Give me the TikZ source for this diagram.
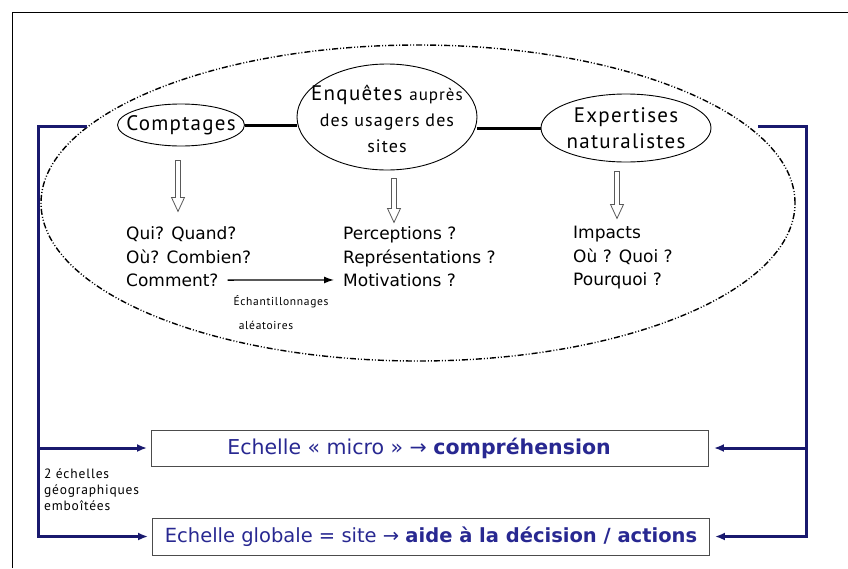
\documentclass[tikz,border=0pt]{standalone}
\usepackage{fontspec}
\setmainfont{DejaVu Sans}
\newfontfamily\gillfont{PT Sans}[LetterSpace=6]
\usetikzlibrary{shapes.geometric,arrows.meta,calc}

\definecolor{navy}{RGB}{25,25,110}
\definecolor{scaleblue}{RGB}{40,40,145}

\tikzset{
  zone/.style={ellipse, draw, line width=1.4pt, inner sep=0pt,
    dash pattern=on 6pt off 2pt on 1pt off 2pt on 1pt off 2pt},
  bubble/.style={ellipse, draw, line width=0.9pt, inner sep=0pt},
  bubbletext/.style={align=center, inner sep=0pt, font=\gillfont\fontsize{21}{26}\selectfont},
  qline/.style={anchor=base west, inner sep=0pt, font=\fontsize{17}{20}\selectfont},
  smalltext/.style={inner sep=0pt, font=\gillfont\fontsize{11.5}{16}\selectfont},
  scalebox/.style={draw=black!70, line width=0.9pt, inner sep=0pt, minimum width=557,
    text=scaleblue},
  bond/.style={line width=3pt},
  link/.style={navy, line width=3pt},
}

% hollow arrow going down between two points
\newcommand\hollowdown[2]{%
  \draw[black!65, line width=0.8pt, fill=white] let \p1=#1, \p2=#2 in
    (\x1-2.5pt,\y1) -- (\x1+2.5pt,\y1) -- (\x1+2.5pt,\y2+14pt) -- (\x1+6.5pt,\y2+14pt)
    -- (\x1,\y2) -- (\x1-6.5pt,\y2+14pt) -- (\x1-2.5pt,\y2+14pt) -- cycle;}

\begin{document}
\begin{tikzpicture}[x=1pt, y=-1pt]
\useasboundingbox (0,0) rectangle (848,568);

% frame
\draw[line width=1pt] (12,568) -- (12,12) -- (848,12);

% field zone
\node[zone, minimum width=754, minimum height=316] (zone) at (418,203) {};

% the three methods
\node[bubble, minimum width=127, minimum height=42,
  label={[bubbletext]center:Comptages}] (cpt) at (181,125) {};
\node[bubble, minimum width=180, minimum height=106,
  label={[bubbletext, yshift=-2pt]center:{{\fontsize{21}{25}\selectfont Enquêtes} {\fontsize{17}{25}\selectfont auprès}\\
    \fontsize{18}{25}\selectfont des usagers des\\ \fontsize{18}{25}\selectfont sites}}] (enq) at (387,117) {};
\node[bubble, minimum width=170, minimum height=68,
  label={[bubbletext]center:{Expertises\\naturalistes}}] (exp) at (626,128) {};

\draw[bond] (cpt.east) -- (cpt.east -| enq.west);
\draw[bond] (exp.west -| enq.east) -- (exp.west);

% questions
\node[qline] (qui) at (126,239.5) {Qui? Quand?};
\node[qline] (ou) at (126,263) {Où? Combien?};
\node[qline] (comment) at (126,286.3) {Comment?};

\node[qline] (percep) at (343,239.5) {Perceptions ?};
\node[qline] (repres) at (343,263) {Représentations ?};
\node[qline] (motiv) at (343,286.3) {Motivations ?};

\node[qline] (impact) at (573,238.5) {Impacts};
\node[qline] (quoi) at (573,262) {Où ? Quoi ?};
\node[qline] (pourquoi) at (573,285) {Pourquoi ?};

\hollowdown{($(cpt.south)+(-3,14)$)}{($(cpt.south)+(-3,65)$)}
\hollowdown{($(enq.south)+(7,8)$)}{($(enq.south)+(7,52)$)}
\hollowdown{($(exp.south)+(-9,9)$)}{($(exp.south)+(-9,56)$)}

\draw[line width=1.3pt, -{Latex[length=10pt, width=7pt]}, shorten <=9pt, shorten >=9pt]
  (comment.east) -- (motiv.west);
\node[smalltext] (echant) at (281,302) {Échantillonnages};
\node[smalltext] (aleat) at (266,325) {aléatoires};

% the two scales
\node[scalebox, minimum height=36, font=\fontsize{20.5}{22}\selectfont] (micro) at (430,448)
  {Echelle « micro » → \textbf{compréhension}\hspace{22pt}\mbox{}};
\node[scalebox, minimum height=37, font=\fontsize{19.5}{22}\selectfont] (global) at (431,536.5)
  {Echelle globale = site → \textbf{aide à la décision / actions}};

\node[smalltext, anchor=north west, align=left, font=\gillfont\fontsize{13.5}{16}\selectfont]
  (nest) at (44,469) {2 échelles\\géographiques\\emboîtées};

\coordinate (lx) at (38,0);
\coordinate (rx) at (806,0);
\draw[link, -{Latex[length=10pt, width=8pt]}, shorten >=4pt] (zone.167) -- (zone.167 -| lx) |- (micro.west);
\draw[link, -{Latex[length=10pt, width=8pt]}, shorten >=4pt] (zone.167 -| lx) |- (global.west);
\draw[link, -{Latex[length=10pt, width=8pt]}, shorten >=5pt] ($(zone.13)+(9,0)$) -- (zone.13 -| rx) |- (micro.east);
\draw[link, -{Latex[length=10pt, width=8pt]}, shorten >=5pt] (zone.13 -| rx) |- (global.east);
\end{tikzpicture}
\end{document}
